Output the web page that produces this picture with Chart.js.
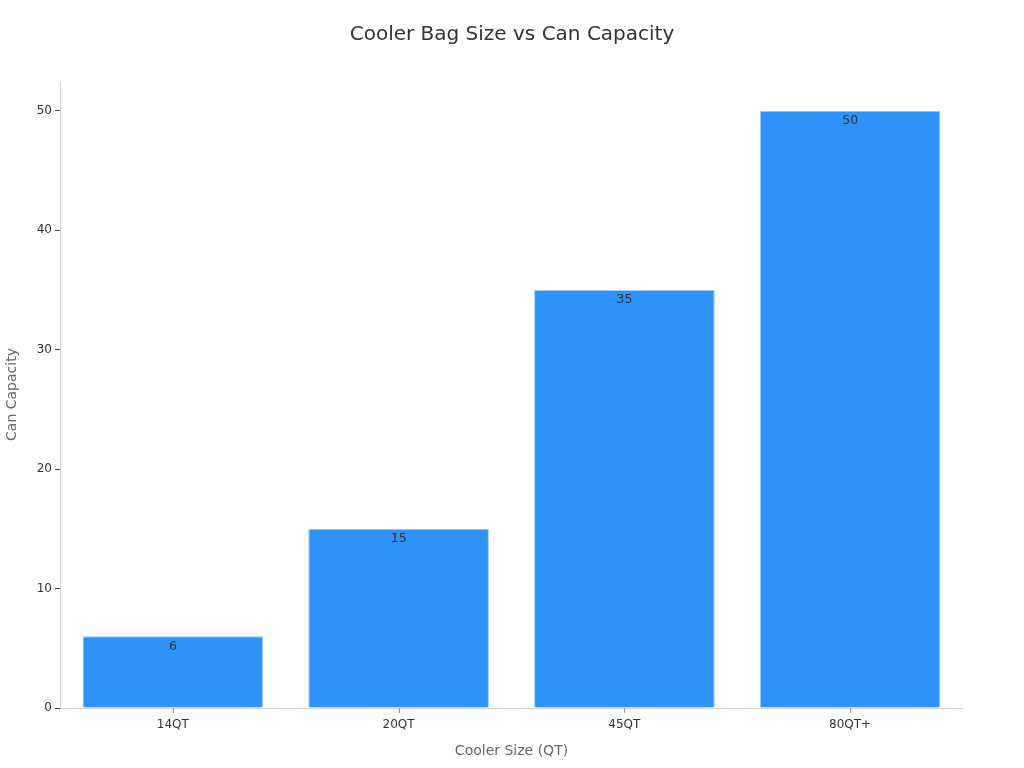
<!DOCTYPE html>
<html>
<head>
<meta charset="utf-8">
<script src="https://cdn.jsdelivr.net/npm/chart.js@4/dist/chart.umd.min.js"></script>
<style>
  html, body { margin: 0; padding: 0; background: #fff; }
  #wrap { width: 1024px; height: 768px; }
</style>
</head>
<body>
<div id="wrap"><canvas id="coolerChart" width="1024" height="768"></canvas></div>
<script>
// chart values
const coolerSizes = ['14QT', '20QT', '45QT', '80QT+'];
const canCapacity = [6, 15, 35, 50];
const yTicks = [0, 10, 20, 30, 40, 50];
const chartTitle = 'Cooler Bag Size vs Can Capacity';

const FONT = "'DejaVu Sans', sans-serif";

// title centred on the whole canvas, not on the padded box
const centredTitle = {
    id: 'centredTitle',
    afterDraw(chart) {
        const ctx = chart.ctx;
        ctx.save();
        ctx.font = '20px ' + FONT;
        ctx.fillStyle = '#333333';
        ctx.textAlign = 'center';
        ctx.textBaseline = 'middle';
        ctx.fillText(chartTitle, chart.width / 2, 35);
        ctx.restore();
    }
};

// draws the value just inside the top of each bar
const barValueLabels = {
    id: 'barValueLabels',
    afterDatasetsDraw(chart) {
        const ctx = chart.ctx;
        const meta = chart.getDatasetMeta(0);
        ctx.save();
        ctx.font = '12.5px ' + FONT;
        ctx.fillStyle = '#333333';
        ctx.textAlign = 'center';
        ctx.textBaseline = 'middle';
        meta.data.forEach((bar, i) => {
            ctx.fillText(String(canCapacity[i]), bar.x, bar.y + 10);
        });
        ctx.restore();
    }
};

// small tick marks under each category centre
const xTickMarks = {
    id: 'xTickMarks',
    afterDraw(chart) {
        const ctx = chart.ctx;
        const xScale = chart.scales.x;
        const y0 = chart.chartArea.bottom;
        ctx.save();
        ctx.strokeStyle = '#999999';
        ctx.lineWidth = 1;
        coolerSizes.forEach((_, i) => {
            const x = Math.round(xScale.getPixelForValue(i)) + 0.5;
            ctx.beginPath();
            ctx.moveTo(x, y0);
            ctx.lineTo(x, y0 + 5);
            ctx.stroke();
        });
        ctx.restore();
    }
};

document.addEventListener('DOMContentLoaded', () => {
    const ctx = document.getElementById('coolerChart');
    new Chart(ctx, {
        type: 'bar',
        data: {
            labels: coolerSizes,
            datasets: [{
                label: 'Can Capacity',
                data: canCapacity,
                backgroundColor: '#2E93F9',
                borderColor: '#9ccbfb',
                borderWidth: 1,
                categoryPercentage: 1.0,
                barPercentage: 0.8
            }]
        },
        options: {
            responsive: false,
            animation: false,
            layout: { padding: { left: 0, right: 61, top: 81, bottom: 0 } },
            plugins: {
                legend: { display: false },
                tooltip: { enabled: false },
                title: { display: false }
            },
            scales: {
                x: {
                    afterFit(scale) { scale.height = 60; },
                    border: { color: '#d0d0d0' },
                    grid: { display: false },
                    ticks: { color: '#333333', font: { family: FONT, size: 12 }, padding: 2 },
                    title: {
                        display: true,
                        text: 'Cooler Size (QT)',
                        color: '#666666',
                        font: { family: FONT, size: 14 },
                        padding: { top: 4, bottom: 8 }
                    }
                },
                y: {
                    min: 0,
                    max: 52.5,
                    afterFit(scale) { scale.width = 60; },
                    afterBuildTicks(scale) { scale.ticks = yTicks.map(v => ({ value: v })); },
                    border: { color: '#d0d0d0' },
                    grid: { display: true, drawOnChartArea: false, tickLength: 5, color: '#444444' },
                    ticks: { color: '#333333', font: { family: FONT, size: 12 }, padding: 3 },
                    title: {
                        display: true,
                        text: 'Can Capacity',
                        color: '#666666',
                        font: { family: FONT, size: 14 },
                        padding: { top: 4, bottom: 4 }
                    }
                }
            }
        },
        plugins: [barValueLabels, centredTitle, xTickMarks]
    });
});
</script>
</body>
</html>
